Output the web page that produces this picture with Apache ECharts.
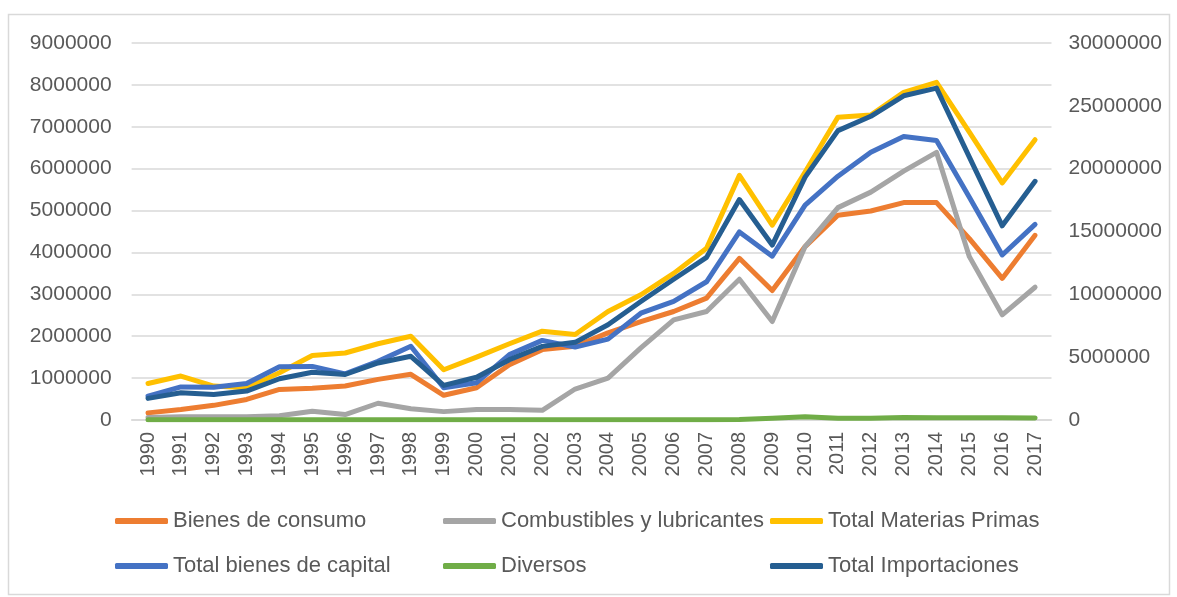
<!DOCTYPE html>
<html><head><meta charset="utf-8">
<script src="https://cdn.jsdelivr.net/npm/echarts@6/dist/echarts.min.js"></script>
<style>html,body{margin:0;padding:0;background:#fff}#c{width:1177px;height:597px}</style>
</head><body><div id="c"></div>
<script>
const years = ['1990','1991','1992','1993','1994','1995','1996','1997','1998','1999','2000','2001','2002','2003','2004','2005','2006','2007','2008','2009','2010','2011','2012','2013','2014','2015','2016','2017'];
const bienesConsumo = [170000,250000,350000,490000,730000,760000,810000,970000,1090000,590000,770000,1320000,1680000,1760000,2080000,2350000,2590000,2910000,3860000,3090000,4140000,4890000,4990000,5190000,5190000,4330000,3380000,4410000];
const combustibles = [60000,80000,80000,80000,100000,210000,130000,400000,270000,200000,250000,250000,230000,740000,1000000,1720000,2390000,2590000,3360000,2350000,4140000,5070000,5440000,5940000,6390000,3900000,2510000,3170000];
const materiasPrimas = [870000,1050000,810000,770000,1130000,1540000,1600000,1820000,2000000,1200000,1500000,1820000,2120000,2040000,2590000,2990000,3500000,4100000,5840000,4650000,5920000,7230000,7280000,7820000,8060000,6870000,5660000,6690000];
const bienesCapital = [570000,790000,780000,870000,1270000,1280000,1100000,1400000,1760000,770000,890000,1560000,1900000,1740000,1930000,2550000,2830000,3300000,4490000,3910000,5130000,5820000,6390000,6770000,6670000,5320000,3940000,4670000];
const diversos = [5000,5000,5000,5000,5000,5000,5000,5000,5000,5000,5000,5000,5000,5000,5000,5000,5000,5000,10000,40000,75000,40000,40000,60000,55000,55000,55000,50000];
const totalImportaciones = [1720000,2170000,2030000,2300000,3280000,3800000,3620000,4540000,5070000,2750000,3400000,4800000,5860000,6180000,7580000,9430000,11200000,12940000,17540000,13920000,19330000,23030000,24170000,25800000,26410000,20920000,15450000,18990000];

const FONT = '"Liberation Sans", Arial, sans-serif';
const TXT = '#595959';
const names = ['Bienes de consumo','Combustibles y lubricantes','Total Materias Primas','Total bienes de capital','Diversos','Total Importaciones'];
const colors = ['#ED7D31','#A5A5A5','#FFC000','#4472C4','#70AD47','#255E91'];
const datas = [bienesConsumo, combustibles, materiasPrimas, bienesCapital, diversos, totalImportaciones];
const axisIdx = [0,0,0,0,0,1];

const legendPos = [[115,510],[443,510],[770,510],[115,555],[443,555],[770,555]];

const chart = echarts.init(document.getElementById('c'));
chart.setOption({
  animation:false,
  backgroundColor:'#fff',
  graphic:[{type:'rect',shape:{x:8.5,y:14.5,width:1161,height:580},style:{fill:'none',stroke:'#D9D9D9',lineWidth:1.5},silent:true}],
  grid:{left:131.6,right:125.5,top:43,bottom:177,containLabel:false},
  legend: names.map((n,i)=>({
    data:[n], left:legendPos[i][0], top:legendPos[i][1], padding:0,
    icon:'roundRect', itemWidth:53, itemHeight:6,
    textStyle:{fontFamily:FONT,fontSize:22,color:TXT}
  })),
  xAxis:{type:'category',data:years,boundaryGap:true,
    axisLine:{lineStyle:{color:'#D9D9D9',width:1.5}},axisTick:{show:false},
    axisLabel:{rotate:90,interval:0,fontFamily:FONT,fontSize:20,color:TXT,margin:12}},
  yAxis:[
    {type:'value',min:0,max:9000000,interval:1000000,
     axisLine:{show:false},axisTick:{show:false},
     splitLine:{lineStyle:{color:'#D9D9D9',width:1.5}},
     axisLabel:{fontFamily:FONT,fontSize:21,color:TXT,margin:20,formatter:v=>String(v)}},
    {type:'value',min:0,max:30000000,interval:5000000,
     axisLine:{show:false},axisTick:{show:false},splitLine:{show:false},
     axisLabel:{fontFamily:FONT,fontSize:21,color:TXT,margin:17,formatter:v=>String(v)}}
  ],
  series: names.map((n,i)=>({
    name:n,type:'line',data:datas[i],yAxisIndex:axisIdx[i],
    symbol:'none',lineStyle:{color:colors[i],width:5,cap:'round',join:'round'},
    itemStyle:{color:colors[i]},z:2+i
  }))
});
</script></body></html>
